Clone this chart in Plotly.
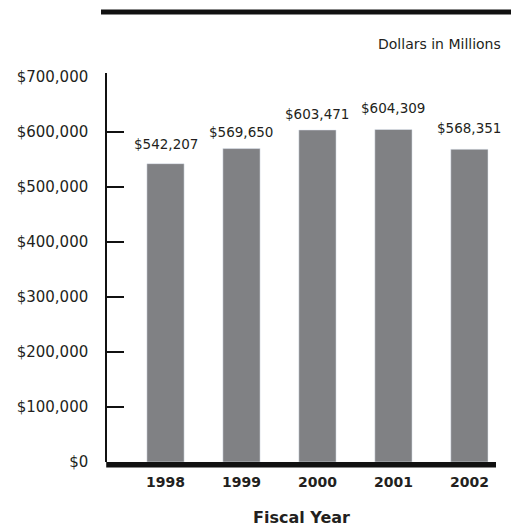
import plotly.graph_objects as go

years = ["1998", "1999", "2000", "2001", "2002"]
values = [542207, 569650, 603471, 604309, 568351]
bar_labels = ["$542,207", "$569,650", "$603,471", "$604,309", "$568,351"]
tick_vals = [0, 100000, 200000, 300000, 400000, 500000, 600000, 700000]
tick_text = ["$0", "$100,000", "$200,000", "$300,000", "$400,000", "$500,000", "$600,000", "$700,000"]

# styling: pixel lift of each value label above its bar
label_lift = [10, 7, 6, 12, 11]

FONT = "DejaVu Sans"
TXT = "#231f20"
BAR = "#808184"

pos = list(range(len(years)))
fig = go.Figure()
fig.add_trace(go.Bar(x=pos, y=values, marker_color=BAR, width=0.49,
                     hoverinfo="skip", showlegend=False))
fig.add_trace(go.Scatter(x=[pos[0]], y=[0], yaxis="y2", mode="markers",
                         marker=dict(opacity=0), showlegend=False, hoverinfo="skip"))

for p, v, t, s in zip(pos, values, bar_labels, label_lift):
    fig.add_annotation(x=p, y=v, text=t, showarrow=False, yanchor="bottom",
                       yshift=s, font=dict(family=FONT, size=13.5, color=TXT))

YMAX = 707000
PLOT_H = 527 - 73 - 65
fig.update_layout(
    width=511, height=527,
    margin=dict(l=107, r=15, t=73, b=65, autoexpand=False),
    plot_bgcolor="white", paper_bgcolor="white",
    font=dict(family=FONT, color=TXT),
    xaxis=dict(range=[-0.77, 4.35], tickvals=pos, ticktext=years, automargin=False,
               tickfont=dict(family=FONT, size=14, color=TXT, weight="bold"),
               showline=False, ticks="", ticklabelstandoff=10,
               showgrid=False, zeroline=False,
               title=dict(text="<b>Fiscal Year</b>", font=dict(family=FONT, size=16, color=TXT), standoff=22)),
    yaxis=dict(range=[0, YMAX], tickvals=tick_vals, ticktext=tick_text, automargin=False,
               tickfont=dict(family=FONT, size=15, color=TXT),
               showline=True, linewidth=1.5, linecolor="#111", ticks="",
               showgrid=False, zeroline=False, ticklabelstandoff=14),
    yaxis2=dict(range=[0, YMAX], overlaying="y", side="left", automargin=False,
                tickvals=tick_vals[1:-1], showticklabels=False,
                ticks="inside", ticklen=17, tickwidth=1.5, tickcolor="#111",
                showline=False, showgrid=False, zeroline=False),
)

# heavy base rule under the bars
fig.add_shape(type="rect", xref="paper", yref="paper", x0=-0.002, x1=1.0,
              y0=-5.5 / PLOT_H, y1=0.0, fillcolor="#111", line=dict(width=0), layer="above")
# top rule and unit note
fig.add_shape(type="line", xref="paper", yref="paper",
              x0=-0.0154, x1=1.04, y0=1.157, y1=1.157,
              line=dict(color="#111", width=5))
fig.add_annotation(xref="paper", yref="paper", x=1.018, y=1.0746, xanchor="right",
                   yanchor="middle", text="Dollars in Millions", showarrow=False,
                   font=dict(family=FONT, size=14, color=TXT))

fig.write_html("out.html")
